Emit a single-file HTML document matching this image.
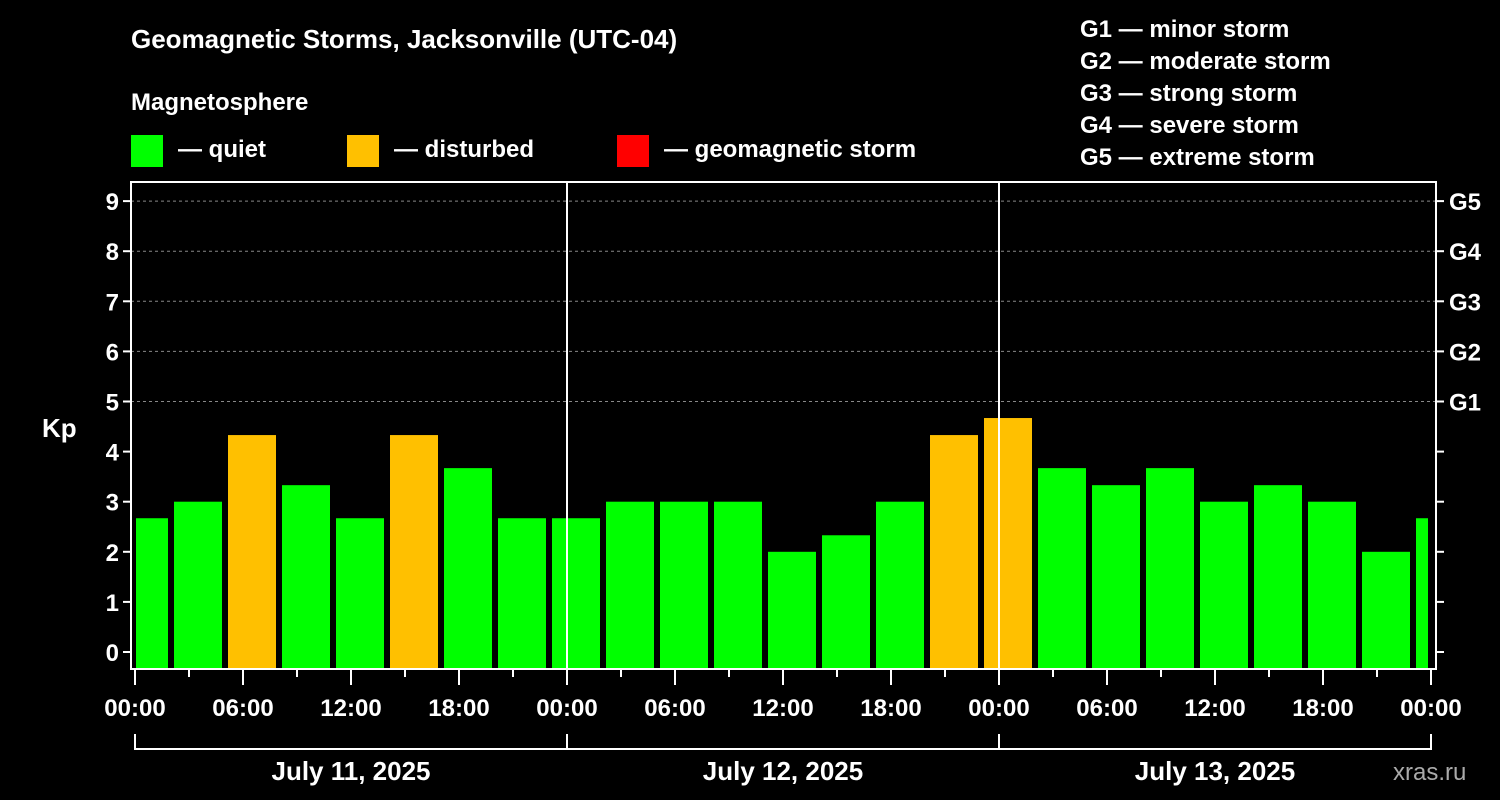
<!DOCTYPE html>
<html><head><meta charset="utf-8"><style>
body{margin:0;background:#000;}
svg{display:block;font-family:"Liberation Sans",sans-serif;font-weight:bold;}
</style></head><body>
<svg id="chart" width="1500" height="800" viewBox="0 0 1500 800">
<rect width="1500" height="800" fill="#000"/>
<text x="131" y="48" fill="#fff" font-size="26">Geomagnetic Storms, Jacksonville (UTC-04)</text>
<text x="131" y="110" fill="#fff" font-size="24">Magnetosphere</text>
<g><rect x="131" y="135" width="32" height="32" fill="#00ff00"/><text x="178" y="157" fill="#fff" font-size="24">— quiet</text></g>
<g><rect x="347" y="135" width="32" height="32" fill="#ffc000"/><text x="394" y="157" fill="#fff" font-size="24">— disturbed</text></g>
<g><rect x="617" y="135" width="32" height="32" fill="#ff0000"/><text x="664" y="157" fill="#fff" font-size="24">— geomagnetic storm</text></g>
<g fill="#fff" font-size="24">
<text x="1080" y="37">G1 — minor storm</text>
<text x="1080" y="69">G2 — moderate storm</text>
<text x="1080" y="101">G3 — strong storm</text>
<text x="1080" y="133">G4 — severe storm</text>
<text x="1080" y="165">G5 — extreme storm</text>
</g>
<text x="42" y="437" fill="#fff" font-size="26">Kp</text>
<text x="1393" y="780" fill="#aaa" font-size="24" font-weight="normal">xras.ru</text>
<g id="grid"></g><g id="bars"></g><g id="axes"></g>
</svg>
<script>
const categories=[];for(let i=0;i<25;i++)categories.push(i);
const kpValues=[2.67,3,4.33,3.33,2.67,4.33,3.67,2.67,2.67,3,3,3,2,2.33,3,4.33,4.67,3.67,3.33,3.67,3,3.33,3,2,2.67];
const kpTicks=[0,1,2,3,4,5,6,7,8,9];
const gLabels=["G1","G2","G3","G4","G5"];
const timeLabels=["00:00","06:00","12:00","18:00","00:00","06:00","12:00","18:00","00:00","06:00","12:00","18:00","00:00"];
const dateLabels=["July 11, 2025","July 12, 2025","July 13, 2025"];
const NS="http://www.w3.org/2000/svg";
const L=131,R=1436,T=182,B=669,X0=135,PH=18;
const y=v=>652-50.1*v;
const xh=h=>X0+PH*h;
function mk(t,a,p){const e=document.createElementNS(NS,t);for(const k in a)e.setAttribute(k,a[k]);p.appendChild(e);return e;}
const grid=document.getElementById('grid'),bars=document.getElementById('bars'),axes=document.getElementById('axes');
kpTicks.forEach(v=>{if(v>=5){const l=mk('line',{x1:L,x2:R,y1:y(v),y2:y(v),stroke:'#888','stroke-dasharray':'3,3'},grid);}});
// bars
mk('clipPath',{id:'pc'},bars);
document.getElementById('pc').appendChild(Object.assign(document.createElementNS(NS,'rect'),{}));
const cr=document.querySelector('#pc rect');cr.setAttribute('x',136);cr.setAttribute('y',T);cr.setAttribute('width',1292);cr.setAttribute('height',B-T);
kpValues.forEach((v,i)=>{const c=xh(0.5+3*i);const col=v>=5?'#ff0000':(v>=4?'#ffc000':'#00ff00');
const r=mk('rect',{x:c-24,y:y(v),width:48,height:B-y(v),fill:col,'clip-path':'url(#pc)'},bars);

});
// frame
const fr=mk('rect',{x:L,y:T,width:R-L,height:B-T,fill:'none',stroke:'#fff','stroke-width':2},axes);


[24,48].forEach(h=>{const l=mk('line',{x1:xh(h),x2:xh(h),y1:T,y2:B,stroke:'#fff','stroke-width':2},axes);});
kpTicks.forEach(v=>{mk('line',{x1:L-8,x2:L,y1:y(v),y2:y(v),stroke:'#fff','stroke-width':2},axes);mk('line',{x1:R,x2:R+8,y1:y(v),y2:y(v),stroke:'#fff','stroke-width':2},axes);
const t=mk('text',{x:L-12,y:y(v)+9,fill:'#fff','font-size':24,'text-anchor':'end'},axes);t.textContent=v;


if(v>=5){const g=mk('text',{x:R+13,y:y(v)+9,fill:'#fff','font-size':24},axes);g.textContent=gLabels[v-5];

}});
for(let h=0;h<=72;h+=3){const long=h%6===0;mk('line',{x1:xh(h),x2:xh(h),y1:B,y2:B+(long?16:8),stroke:'#fff','stroke-width':2},axes);}
timeLabels.forEach((s,i)=>{const t=mk('text',{x:xh(6*i),y:716,fill:'#fff','font-size':24,'text-anchor':'middle'},axes);t.textContent=s;

});
mk('path',{d:`M${xh(0)} 734V749H${xh(72)}V734M${xh(24)} 734V749M${xh(48)} 734V749`,fill:'none',stroke:'#fff','stroke-width':2},axes);
dateLabels.forEach((s,i)=>{const t=mk('text',{x:xh(24*i+12),y:780,fill:'#fff','font-size':26,'text-anchor':'middle'},axes);t.textContent=s;

});
</script>
</body></html>
